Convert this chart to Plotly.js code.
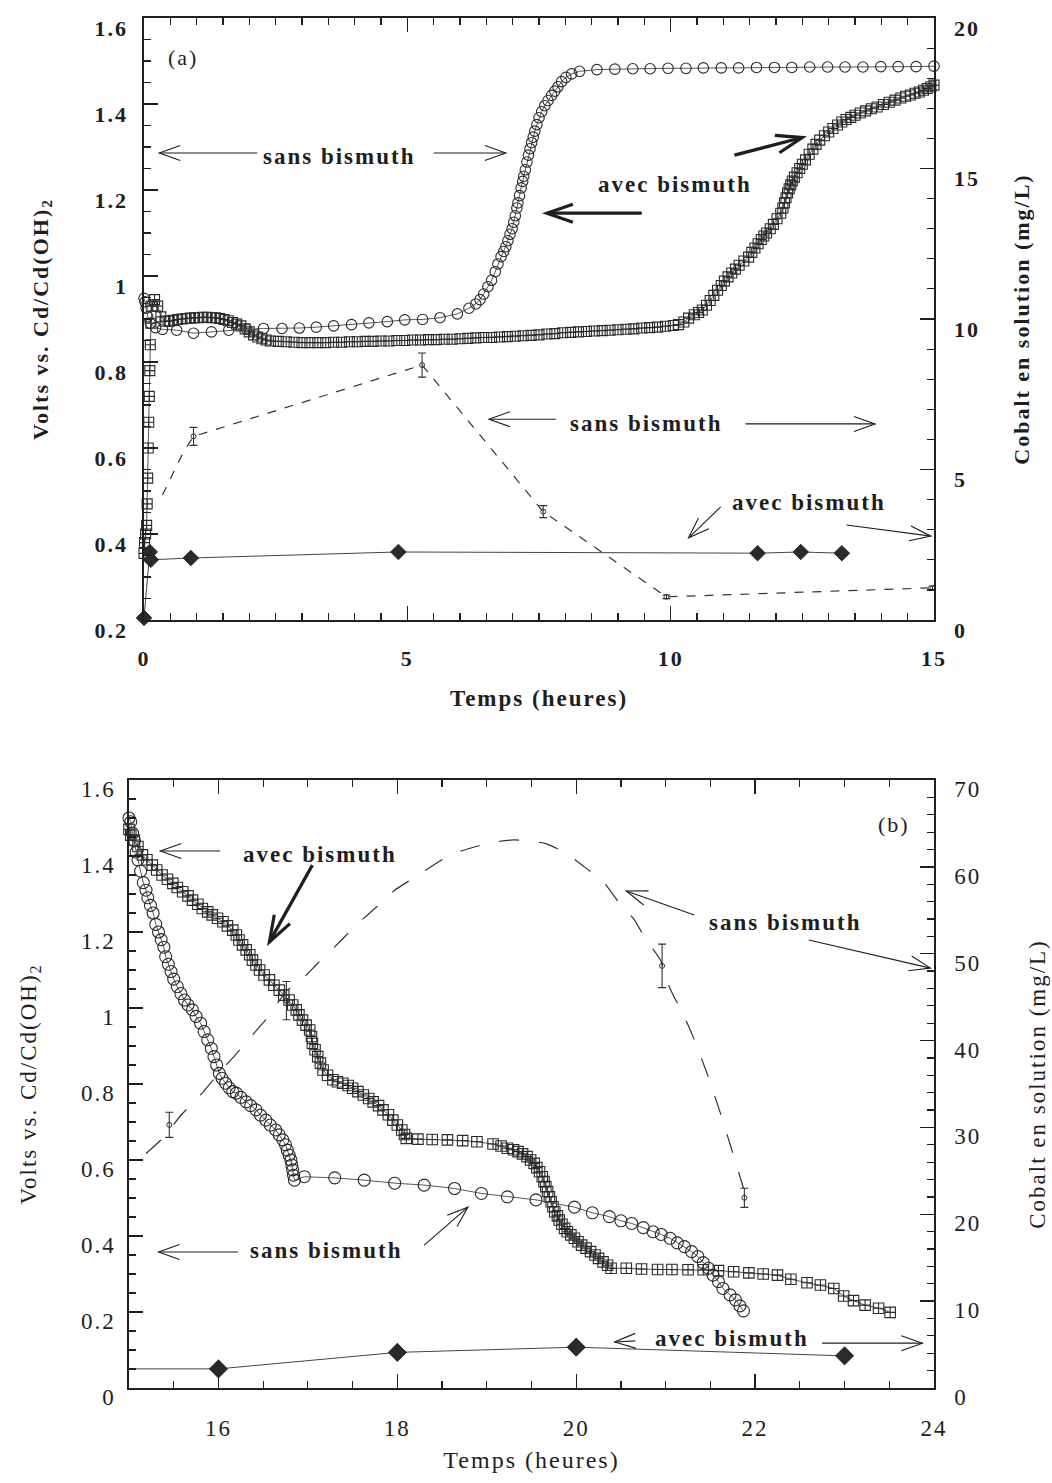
<!DOCTYPE html>
<html><head><meta charset="utf-8">
<script src="https://cdn.plot.ly/plotly-3.0.1.min.js"></script>
<style>
html,body{margin:0;padding:0;background:#fff;}
#chart{width:1052px;height:1483px;}
#chart svg text{letter-spacing:2px;}
</style>
</head><body><div id="chart"></div>
<script>
// ================= Panel (a) : 0 - 15 h =================
// Voltage, sans bismuth (open circles) [t (h), V]
const aSansV = [[0.00,0.948],[0.02,0.94],[0.04,0.925],[0.07,0.905],[0.12,0.89],[0.22,0.88],[0.35,0.876],[0.62,0.874],[0.94,0.867],[1.28,0.870],[1.61,0.874],[1.95,0.876],[2.27,0.878],[2.62,0.878],[2.95,0.879],[3.27,0.881],[3.60,0.884],[3.94,0.887],[4.27,0.891],[4.62,0.894],[4.95,0.898],[5.29,0.899],[5.62,0.903],[5.95,0.912],[6.17,0.925],[6.30,0.935],[6.38,0.945],[6.45,0.958],[6.53,0.975],[6.60,0.990],[6.67,1.010],[6.72,1.028],[6.78,1.045],[6.83,1.057],[6.87,1.068],[6.91,1.082],[6.95,1.097],[6.99,1.110],[7.02,1.125],[7.05,1.140],[7.08,1.158],[7.10,1.170],[7.13,1.187],[7.16,1.205],[7.19,1.220],[7.21,1.232],[7.24,1.247],[7.27,1.265],[7.30,1.281],[7.33,1.296],[7.36,1.310],[7.39,1.323],[7.42,1.337],[7.46,1.352],[7.50,1.368],[7.55,1.382],[7.61,1.396],[7.67,1.408],[7.74,1.420],[7.80,1.430],[7.86,1.440],[7.93,1.452],[8.01,1.462],[8.12,1.470],[8.27,1.476],[8.60,1.480],[8.94,1.481],[9.28,1.482],[9.61,1.482],[9.95,1.483],[10.29,1.483],[10.62,1.484],[10.96,1.484],[11.29,1.484],[11.63,1.485],[11.97,1.485],[12.30,1.485],[12.64,1.486],[12.98,1.486],[13.31,1.486],[13.65,1.486],[13.99,1.487],[14.32,1.487],[14.66,1.487],[15.00,1.488]];
// Voltage, avec bismuth (crossed squares) [t, V]
const aAvecV = [[0.00,0.355],[0.01,0.38],[0.03,0.40],[0.05,0.42],[0.06,0.47],[0.07,0.53],[0.08,0.60],[0.09,0.66],[0.10,0.72],[0.11,0.78],[0.12,0.84],[0.13,0.89],[0.15,0.93],[0.20,0.945],[0.26,0.93],[0.32,0.905],[0.40,0.895],[0.48,0.895],[0.56,0.897],[0.64,0.899],[0.72,0.900],[0.80,0.901],[0.88,0.902],[0.96,0.903],[1.04,0.903],[1.12,0.904],[1.20,0.904],[1.28,0.903],[1.36,0.903],[1.44,0.901],[1.52,0.899],[1.60,0.896],[1.68,0.892],[1.76,0.888],[1.84,0.884],[1.92,0.877],[2.00,0.870],[2.08,0.863],[2.16,0.858],[2.24,0.854],[2.32,0.851],[2.40,0.849],[2.55,0.848],[2.70,0.847],[2.85,0.846],[3.00,0.845],[3.15,0.845],[3.30,0.845],[3.45,0.845],[3.60,0.846],[3.75,0.846],[3.90,0.847],[4.05,0.847],[4.20,0.848],[4.35,0.848],[4.50,0.849],[4.65,0.849],[4.80,0.850],[4.95,0.850],[5.10,0.851],[5.25,0.851],[5.40,0.852],[5.55,0.852],[5.70,0.853],[5.85,0.853],[6.00,0.854],[6.15,0.855],[6.30,0.856],[6.45,0.857],[6.60,0.857],[6.75,0.858],[6.90,0.859],[7.05,0.860],[7.20,0.861],[7.35,0.862],[7.50,0.863],[7.65,0.865],[7.80,0.866],[7.95,0.868],[8.10,0.869],[8.25,0.870],[8.40,0.871],[8.55,0.872],[8.70,0.873],[8.85,0.874],[9.00,0.875],[9.15,0.876],[9.30,0.877],[9.45,0.879],[9.60,0.880],[9.75,0.881],[9.90,0.883],[10.05,0.885],[10.15,0.887],[10.25,0.893],[10.34,0.902],[10.45,0.910],[10.53,0.915],[10.60,0.921],[10.68,0.932],[10.75,0.943],[10.82,0.955],[10.89,0.967],[10.96,0.978],[11.02,0.988],[11.09,0.998],[11.16,1.007],[11.23,1.016],[11.30,1.025],[11.39,1.035],[11.48,1.044],[11.54,1.055],[11.60,1.065],[11.66,1.075],[11.72,1.085],[11.77,1.093],[11.82,1.100],[11.89,1.110],[11.95,1.120],[12.02,1.133],[12.09,1.146],[12.13,1.158],[12.16,1.170],[12.19,1.182],[12.22,1.193],[12.25,1.203],[12.28,1.212],[12.31,1.221],[12.35,1.230],[12.40,1.240],[12.45,1.250],[12.50,1.260],[12.56,1.270],[12.63,1.283],[12.70,1.295],[12.76,1.306],[12.83,1.316],[12.92,1.326],[13.00,1.335],[13.08,1.343],[13.17,1.351],[13.25,1.358],[13.33,1.364],[13.42,1.369],[13.50,1.374],[13.60,1.379],[13.70,1.384],[13.81,1.389],[13.92,1.393],[14.04,1.399],[14.15,1.404],[14.26,1.409],[14.37,1.414],[14.46,1.418],[14.55,1.421],[14.64,1.425],[14.72,1.428],[14.80,1.432],[14.87,1.436],[14.94,1.440],[15.00,1.444]];
// Cobalt sans bismuth (mg/L): measured points with error bars
const aSansCoT   = [0.94, 5.28, 7.58, 9.92, 14.97];
const aSansCo    = [6.1, 8.47, 3.6, 0.77, 1.07];
const aSansCoErr = [0.3, 0.4, 0.2, 0.06, 0.06];
// dashed guide line through the points
const aSansCoLineT = [0.35, 0.55, 0.74, 0.94, 5.28, 7.58, 9.92, 14.97];
const aSansCoLine  = [4.15, 4.88, 5.55, 6.1, 8.47, 3.6, 0.77, 1.07];
// Cobalt avec bismuth (mg/L), diamonds
const aAvecCoT = [0, 0.11, 0.13, 0.89, 4.83, 11.65, 12.47, 13.25];
const aAvecCo  = [0.07, 2.26, 2.0, 2.06, 2.26, 2.22, 2.26, 2.22];

// ================= Panel (b) : 15 - 24 h =================
const bSansV = [[15.00,1.50],[15.02,1.49],[15.04,1.46],[15.06,1.44],[15.08,1.41],[15.10,1.39],[15.13,1.36],[15.16,1.33],[15.19,1.31],[15.21,1.29],[15.24,1.27],[15.27,1.25],[15.30,1.22],[15.33,1.20],[15.36,1.18],[15.39,1.16],[15.41,1.135],[15.44,1.115],[15.47,1.096],[15.50,1.076],[15.54,1.056],[15.58,1.038],[15.62,1.021],[15.66,1.008],[15.71,0.995],[15.75,0.978],[15.80,0.960],[15.84,0.938],[15.88,0.916],[15.92,0.894],[15.95,0.872],[15.98,0.850],[16.01,0.828],[16.04,0.815],[16.08,0.802],[16.12,0.790],[16.16,0.780],[16.20,0.776],[16.25,0.765],[16.31,0.753],[16.36,0.743],[16.42,0.732],[16.47,0.718],[16.53,0.705],[16.58,0.692],[16.64,0.679],[16.68,0.666],[16.72,0.653],[16.75,0.640],[16.77,0.626],[16.79,0.613],[16.81,0.600],[16.82,0.587],[16.83,0.574],[16.84,0.560],[16.85,0.547],[16.96,0.556],[17.30,0.553],[17.63,0.547],[17.97,0.539],[18.30,0.534],[18.64,0.525],[18.94,0.512],[19.23,0.503],[19.55,0.495],[19.98,0.476],[20.18,0.461],[20.37,0.451],[20.50,0.440],[20.62,0.433],[20.75,0.422],[20.86,0.411],[20.95,0.404],[21.05,0.394],[21.13,0.382],[21.21,0.372],[21.29,0.359],[21.36,0.346],[21.42,0.330],[21.48,0.315],[21.53,0.297],[21.59,0.280],[21.64,0.262],[21.72,0.245],[21.78,0.232],[21.83,0.216],[21.87,0.203]];
const bAvecV = [[15.00,1.47],[15.02,1.455],[15.06,1.442],[15.10,1.425],[15.15,1.403],[15.20,1.39],[15.26,1.376],[15.31,1.363],[15.37,1.35],[15.43,1.339],[15.49,1.328],[15.54,1.317],[15.60,1.306],[15.66,1.295],[15.71,1.284],[15.77,1.273],[15.82,1.262],[15.88,1.253],[15.93,1.245],[15.99,1.236],[16.05,1.227],[16.10,1.216],[16.16,1.205],[16.20,1.192],[16.23,1.179],[16.27,1.166],[16.31,1.153],[16.35,1.14],[16.38,1.126],[16.42,1.113],[16.46,1.10],[16.51,1.087],[16.57,1.074],[16.62,1.06],[16.68,1.047],[16.73,1.034],[16.79,1.021],[16.83,1.008],[16.87,0.995],[16.90,0.982],[16.94,0.968],[16.98,0.955],[17.02,0.942],[17.04,0.925],[17.05,0.907],[17.08,0.89],[17.11,0.872],[17.14,0.855],[17.17,0.837],[17.22,0.823],[17.28,0.811],[17.33,0.806],[17.39,0.802],[17.45,0.796],[17.50,0.789],[17.56,0.78],[17.62,0.771],[17.68,0.762],[17.73,0.753],[17.79,0.743],[17.84,0.732],[17.90,0.719],[17.95,0.705],[18.00,0.692],[18.05,0.679],[18.08,0.667],[18.10,0.657],[18.23,0.655],[18.39,0.654],[18.56,0.653],[18.73,0.651],[18.89,0.648],[19.07,0.642],[19.16,0.637],[19.23,0.631],[19.30,0.627],[19.35,0.622],[19.40,0.616],[19.45,0.609],[19.49,0.60],[19.53,0.591],[19.56,0.58],[19.59,0.569],[19.62,0.556],[19.64,0.543],[19.66,0.53],[19.68,0.517],[19.70,0.503],[19.72,0.49],[19.74,0.477],[19.76,0.464],[19.79,0.453],[19.81,0.442],[19.84,0.431],[19.87,0.42],[19.90,0.411],[19.94,0.403],[19.98,0.394],[20.02,0.385],[20.06,0.376],[20.11,0.368],[20.16,0.359],[20.21,0.35],[20.25,0.341],[20.30,0.332],[20.35,0.323],[20.39,0.315],[20.56,0.315],[20.73,0.313],[20.91,0.312],[21.07,0.312],[21.25,0.311],[21.42,0.311],[21.59,0.309],[21.76,0.306],[21.93,0.303],[22.09,0.300],[22.25,0.297],[22.40,0.286],[22.58,0.277],[22.73,0.271],[22.88,0.262],[22.99,0.242],[23.10,0.23],[23.23,0.218],[23.38,0.21],[23.51,0.199]];
// Cobalt sans bismuth: measured points with error bars
const bSansCoT   = [15.45, 16.76, 20.96, 21.88];
const bSansCo    = [30.3, 44.6, 48.6, 21.9];
const bSansCoErr = [1.45, 2.2, 2.5, 1.1];
// dashed fitted curve as drawn in the figure
const bSansFit = [[15.19,27.0],[15.39,28.9],[15.58,31.4],[15.77,33.4],[16.05,36.8],[16.16,38.0],[16.35,40.3],[16.53,42.4],[16.77,45.8],[16.91,46.8],[17.11,48.9],[17.34,51.2],[17.54,53.3],[17.77,55.4],[17.97,57.3],[18.18,58.7],[18.6,61.4],[19.01,62.7],[19.3,63.1],[19.65,62.7],[19.88,61.6],[20.09,60.0],[20.30,58.3],[20.47,56.0],[20.65,53.9],[20.78,51.6],[20.94,49.3],[21.04,46.2],[21.20,42.9],[21.30,40.6],[21.46,36.3],[21.61,31.7],[21.74,27.4],[21.87,23.0]];
// Cobalt avec bismuth (diamonds); first value is the line start at the axis
const bAvecCoT = [15, 16, 18, 20, 23];
const bAvecCo  = [2.2, 2.2, 4.1, 4.7, 3.7];

// ================= Layout geometry =================
const W = 1052, H = 1483;
const TOP = {l:144, r:934, t:18, b:620};
const BOT = {l:129, r:934, t:780, b:1388};
const dom = (p) => ({x:[p.l/W, p.r/W], y:[1-p.b/H, 1-p.t/H]});
const dA = dom(TOP), dB = dom(BOT);

const INK = '#1e1e1e';
const serif = '"Liberation Serif", "Times New Roman", serif';

function axisBase(extra){
  return Object.assign({
    showgrid:false, zeroline:false, showline:true, linecolor:INK, linewidth:1.6,
    ticks:'inside', ticklen:14, tickwidth:1.4, tickcolor:INK
  }, extra);
}
const fontA = (sz) => ({family:serif, size:sz, color:INK, weight:'bold'});
const fontB = (sz) => ({family:serif, size:sz, color:INK});

const col = (arr,i) => arr.map(p=>p[i]);

const traces = [
  // panel a
  {x:col(aAvecV,0), y:col(aAvecV,1), xaxis:'x', yaxis:'y', mode:'lines+markers', cliponaxis:false,
   line:{color:'#555', width:1}, marker:{symbol:'square-cross-open', size:10, color:'#2a2a2a', line:{width:1.1}}},
  {x:col(aSansV,0), y:col(aSansV,1), xaxis:'x', yaxis:'y', mode:'lines+markers', cliponaxis:false,
   line:{color:'#555', width:1}, marker:{symbol:'circle-open', size:10.5, color:'#2a2a2a', line:{width:1.1}}},
  {x:aSansCoLineT, y:aSansCoLine, xaxis:'x', yaxis:'y2', mode:'lines',
   line:{color:'#333', width:1.2, dash:'9px,9px'}},
  {x:aSansCoT, y:aSansCo, xaxis:'x', yaxis:'y2', mode:'markers', cliponaxis:false,
   marker:{symbol:'circle-open', size:5, color:'#333', line:{width:1}},
   error_y:{type:'data', array:aSansCoErr, visible:true, color:'#333', thickness:1.1, width:4}},
  {x:aAvecCoT, y:aAvecCo, xaxis:'x', yaxis:'y2', mode:'lines+markers', cliponaxis:false,
   line:{color:'#444', width:1}, marker:{symbol:'diamond', size:12, opacity:1, color:'#2a2a2a', line:{color:'#1a1a1a', width:0.8}}},
  // panel b
  {x:col(bAvecV,0), y:col(bAvecV,1), xaxis:'x2', yaxis:'y3', mode:'lines+markers', cliponaxis:false,
   line:{color:'#555', width:1}, marker:{symbol:'square-cross-open', size:10.5, color:'#2a2a2a', line:{width:1.1}}},
  {x:col(bSansV,0), y:col(bSansV,1), xaxis:'x2', yaxis:'y3', mode:'lines+markers', cliponaxis:false,
   line:{color:'#555', width:1}, marker:{symbol:'circle-open', size:12, color:'#2a2a2a', line:{width:1.1}}},
  {x:col(bSansFit,0), y:col(bSansFit,1), xaxis:'x2', yaxis:'y4', mode:'lines',
   line:{color:'#333', width:1.2, dash:'20px,20px', shape:'spline', smoothing:0.6}},
  {x:bSansCoT, y:bSansCo, xaxis:'x2', yaxis:'y4', mode:'markers', cliponaxis:false,
   marker:{symbol:'circle-open', size:5, color:'#333', line:{width:1}},
   error_y:{type:'data', array:bSansCoErr, visible:true, color:'#333', thickness:1.1, width:4}},
  {x:bAvecCoT, y:bAvecCo, xaxis:'x2', yaxis:'y4', mode:'lines+markers', cliponaxis:false,
   line:{color:'#444', width:1}, marker:{symbol:'diamond', size:[0,14,14,14,14], opacity:1, color:'#2a2a2a', line:{color:'#1a1a1a', width:0.8}}}
];

const xA = {range:[0,15]}, yA = {range:[0.2,1.6]};
const xB = {range:[15,24]}, yB = {range:[0,1.6]};

const layout = {
  width:W, height:H, margin:{l:0,r:0,t:0,b:0}, showlegend:false,
  paper_bgcolor:'#fff', plot_bgcolor:'rgba(0,0,0,0)',
  xaxis: axisBase({domain:dA.x, anchor:'y', range:xA.range, dtick:5, tick0:0, mirror:'ticks',
    minor:{dtick:0.5, ticklen:7, ticks:'inside', tickwidth:1.2, tickcolor:INK},
    tickfont:fontA(22), ticklabelstandoff:18,
    title:{text:'Temps (heures)', font:fontA(23), standoff:20}}),
  yaxis: axisBase({domain:dA.y, anchor:'x', range:yA.range, dtick:0.2, tick0:0,
    minor:{dtick:0.05, ticklen:7, ticks:'inside', tickwidth:1.2, tickcolor:INK},
    tickfont:fontA(22), ticklabelstandoff:10, ticklabelshift:10,
    title:{text:'Volts vs. Cd/Cd(OH)<sub>2</sub>', font:fontA(22), standoff:46}}),
  yaxis2: axisBase({overlaying:'y', anchor:'x', side:'right', range:[0,20], dtick:5,
    minor:{dtick:1, ticklen:7, ticks:'inside', tickwidth:1.2, tickcolor:INK},
    tickfont:fontA(22), ticklabelstandoff:14, ticklabelshift:10,
    title:{text:'Cobalt en solution (mg/L)', font:fontA(22), standoff:38}}),
  xaxis2: axisBase({domain:dB.x, anchor:'y3', range:xB.range, dtick:2, tick0:0, mirror:'ticks',
    minor:{dtick:0.5, ticklen:7, ticks:'inside', tickwidth:1.2, tickcolor:INK},
    tickfont:fontB(23), ticklabelstandoff:19,
    title:{text:'Temps (heures)', font:fontB(24), standoff:11}}),
  yaxis3: axisBase({domain:dB.y, anchor:'x2', range:yB.range, dtick:0.2, tick0:0,
    minor:{dtick:0.05, ticklen:7, ticks:'inside', tickwidth:1.2, tickcolor:INK},
    tickfont:fontB(23), ticklabelstandoff:7, ticklabelshift:9,
    title:{text:'Volts vs. Cd/Cd(OH)<sub>2</sub>', font:fontB(23), standoff:44}}),
  yaxis4: axisBase({overlaying:'y3', anchor:'x2', side:'right', range:[0,70], dtick:10,
    minor:{dtick:2, ticklen:7, ticks:'inside', tickwidth:1.2, tickcolor:INK},
    tickfont:fontB(23), ticklabelstandoff:14, ticklabelshift:9,
    title:{text:'Cobalt en solution (mg/L)', font:fontB(23), standoff:52}}),
  shapes:[], annotations:[]
};

// ---- annotation arrows (decoration) ----
function scaleOf(p, xr, yr){ return {sx:(p.r-p.l)/(xr[1]-xr[0]), sy:(p.b-p.t)/(yr[1]-yr[0])}; }
const sA = scaleOf(TOP, xA.range, yA.range), sB = scaleOf(BOT, xB.range, yB.range);
function arrow(tail, head, xref, yref, sc, thick){
  const w = thick ? 3.2 : 1.1, L = thick ? 26 : 21, hw = thick ? 9 : 7.5;
  const dx = (head[0]-tail[0])*sc.sx, dy = (head[1]-tail[1])*sc.sy;
  const n = Math.hypot(dx,dy), ux = dx/n, uy = dy/n;
  const bx = -ux*L, by = -uy*L;
  const p1 = [head[0]+(bx - uy*hw)/sc.sx, head[1]+(by + ux*hw)/sc.sy];
  const p2 = [head[0]+(bx + uy*hw)/sc.sx, head[1]+(by - ux*hw)/sc.sy];
  layout.shapes.push({type:'line', xref, yref, x0:tail[0], y0:tail[1], x1:head[0], y1:head[1], line:{color:INK, width:w}});
  layout.shapes.push({type:'path', xref, yref, path:`M${p1[0]},${p1[1]} L${head[0]},${head[1]} L${p2[0]},${p2[1]}`, line:{color:INK, width:w}});
}
// panel a arrows
arrow([2.15,1.286],[0.29,1.286],'x','y',sA,false);
arrow([5.50,1.286],[6.87,1.286],'x','y',sA,false);
arrow([9.45,1.146],[7.65,1.146],'x','y',sA,true);
arrow([11.21,1.281],[12.50,1.322],'x','y',sA,true);
arrow([7.82,0.667],[6.55,0.667],'x','y',sA,false);
arrow([11.42,0.656],[13.88,0.656],'x','y',sA,false);
arrow([10.95,0.463],[10.34,0.391],'x','y',sA,false);
arrow([13.34,0.421],[14.94,0.395],'x','y',sA,false);
// panel b arrows
arrow([16.02,1.413],[15.35,1.413],'x2','y3',sB,false);
arrow([17.05,1.376],[16.57,1.174],'x2','y3',sB,true);
arrow([21.32,1.245],[20.56,1.308],'x2','y3',sB,false);
arrow([22.60,1.179],[23.96,1.105],'x2','y3',sB,false);
arrow([16.22,0.358],[15.33,0.358],'x2','y3',sB,false);
arrow([18.30,0.376],[18.79,0.476],'x2','y3',sB,false);
arrow([20.66,0.124],[20.43,0.121],'x2','y3',sB,false);
arrow([22.75,0.118],[23.87,0.118],'x2','y3',sB,false);

function label(text, x, y, xref, yref, bold){
  layout.annotations.push({text, x, y, xref, yref, showarrow:false, xanchor:'center', yanchor:'middle',
    font: bold ? fontA(23) : fontB(22)});
}
label('(a)', 0.74, 1.509, 'x','y', false);
label('sans bismuth', 3.72, 1.277, 'x','y', true);
label('avec bismuth', 10.09, 1.212, 'x','y', true);
label('sans bismuth', 9.55, 0.658, 'x','y', true);
label('avec bismuth', 12.63, 0.474, 'x','y', true);
label('avec bismuth', 17.14, 1.403, 'x2','y3', true);
label('(b)', 23.55, 1.482, 'x2','y3', false);
label('sans bismuth', 22.34, 1.226, 'x2','y3', true);
label('sans bismuth', 17.21, 0.363, 'x2','y3', true);
label('avec bismuth', 21.74, 0.129, 'x2','y3', true);

Plotly.newPlot('chart', traces, layout, {staticPlot:true, displayModeBar:false});
</script>
</body></html>
